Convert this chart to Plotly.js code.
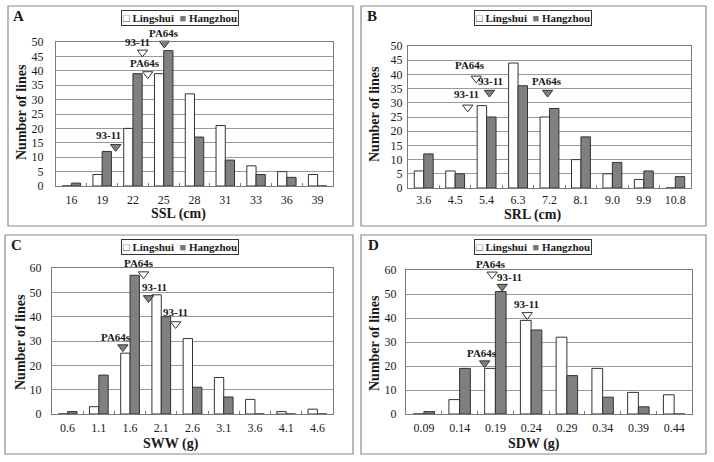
<!DOCTYPE html>
<html>
<head>
<meta charset="utf-8">
<script src="https://cdn.plot.ly/plotly-3.0.1.min.js"></script>
<style>html,body{margin:0;padding:0;background:#fff;}#chart{width:714px;height:462px;}</style>
</head>
<body>
<div id="chart"></div>
<script>
// ---------- DATA ----------
const seriesNames = ['Lingshui', 'Hangzhou'];

const catsA = ['16','19','22','25','28','31','33','36','39'];
const lingA = [0, 4, 20, 39, 32, 21, 7, 5, 4];
const hangA = [1, 12, 39, 47, 17, 9, 4, 3, 0];

const catsB = ['3.6','4.5','5.4','6.3','7.2','8.1','9.0','9.9','10.8'];
const lingB = [6, 6, 29, 44, 25, 10, 5, 3, 0];
const hangB = [12, 5, 25, 36, 28, 18, 9, 6, 4];

const catsC = ['0.6','1.1','1.6','2.1','2.6','3.1','3.6','4.1','4.6'];
const lingC = [0, 3, 25, 49, 31, 15, 6, 1, 2];
const hangC = [1, 16, 57, 40, 11, 7, 0, 0, 0];

const catsD = ['0.09','0.14','0.19','0.24','0.29','0.34','0.39','0.44'];
const lingD = [0, 6, 19, 39, 32, 19, 9, 8];
const hangD = [1, 19, 51, 35, 16, 7, 3, 0];

// parent-line markers (position in category units, value)
const parSiteA = ['Hangzhou','Lingshui','Lingshui','Hangzhou'];
const parNameA = ['93-11','PA64s','93-11','PA64s'];
const parXA = [1.44, 2.48, 2.31, 3.02];
const parYA = [13.6, 38.9, 46.4, 49.5];

const parSiteB = ['Lingshui','Lingshui','Hangzhou','Hangzhou'];
const parNameB = ['93-11','PA64s','93-11','PA64s'];
const parXB = [1.40, 1.67, 2.09, 3.94];
const parYB = [28.4, 38.6, 33.6, 33.6];

const parSiteC = ['Hangzhou','Lingshui','Hangzhou','Lingshui'];
const parNameC = ['PA64s','PA64s','93-11','93-11'];
const parXC = [1.77, 2.43, 2.59, 3.46];
const parYC = [27.5, 57.5, 47.7, 37.0];

const parSiteD = ['Hangzhou','Lingshui','Hangzhou','Lingshui'];
const parNameD = ['PA64s','PA64s','93-11','93-11'];
const parXD = [1.70, 1.91, 2.19, 2.89];
const parYD = [21.2, 58.2, 53.1, 41.3];

const panelLetters = ['A','B','C','D'];
const xTitles = ['SSL (cm)','SRL (cm)','SWW (g)','SDW (g)'];
const yTitle = 'Number of lines';

// ---------- STYLE / LAYOUT ----------
const W = 714, H = 462;
const px = v => v / W;
const py = v => 1 - v / H;
const FONT = 'Liberation Serif, Times New Roman, serif';
const TXT = '#1a1a1a';
const GREY = '#808080';
const OUT = '#333333';

const geom = [
  {plot:[56,333,42,186], box:[8,353,6,226], ymax:50, dtick:5, letter:[18,16], leg:[180,18], xt:[178,214], yt:[21,112], ystand:9, xstand:3, labOff:[[-7,12],[-3,11],[-5,10],[0,10]]},
  {plot:[408,691,46,188], box:[361,706,6,226], ymax:50, dtick:5, letter:[372,16], leg:[533,18], xt:[533,215], yt:[375,114], ystand:2, xstand:1, labOff:[[-1,13],[-6,13],[1,12],[-1,12]]},
  {plot:[52,333,268,414], box:[5,353,235,454], ymax:60, dtick:10, letter:[16,245], leg:[180,247], xt:[171,444], yt:[20,342], ystand:7, xstand:3, labOff:[[-7,10],[-4,11],[6,11],[0,12]]},
  {plot:[406,692,270,414], box:[361,706,235,454], ymax:60, dtick:10, letter:[373,245], leg:[533,247], xt:[534,444], yt:[374,343], ystand:6, xstand:3, labOff:[[-3,10],[-1,10],[7,10],[-1,11]]}
];

const panels = [
  {cats:catsA, ling:lingA, hang:hangA, site:parSiteA, name:parNameA, px:parXA, py:parYA},
  {cats:catsB, ling:lingB, hang:hangB, site:parSiteB, name:parNameB, px:parXB, py:parYB},
  {cats:catsC, ling:lingC, hang:hangC, site:parSiteC, name:parNameC, px:parXC, py:parYC},
  {cats:catsD, ling:lingD, hang:hangD, site:parSiteD, name:parNameD, px:parXD, py:parYD}
];

const traces = [];
const layout = {
  width: W, height: H,
  margin: {l:0, r:0, t:0, b:0},
  paper_bgcolor: '#ffffff',
  plot_bgcolor: '#ffffff',
  showlegend: false,
  barmode: 'group',
  bargap: 0.4,
  bargroupgap: 0,
  font: {family: FONT, color: TXT, size: 12},
  shapes: [],
  annotations: []
};

function ann(o) {
  return Object.assign({showarrow:false, xanchor:'center', yanchor:'middle'}, o);
}

panels.forEach((p, i) => {
  const g = geom[i];
  const n = i + 1;
  const xa = 'x' + n, ya = 'y' + n, xo = 'x' + (n + 4);
  const xk = 'xaxis' + n, yk = 'yaxis' + n, xok = 'xaxis' + (n + 4);

  traces.push({
    type:'bar', x:p.cats, y:p.ling, name:seriesNames[0], xaxis:xa, yaxis:ya,
    marker:{color:'#ffffff', line:{color:OUT, width:1}}, hoverinfo:'skip'
  });
  traces.push({
    type:'bar', x:p.cats, y:p.hang, name:seriesNames[1], xaxis:xa, yaxis:ya,
    marker:{color:GREY, line:{color:OUT, width:1}}, hoverinfo:'skip'
  });

  // parent markers
  seriesNames.forEach(s => {
    const idx = p.site.map((v, k) => v === s ? k : -1).filter(k => k >= 0);
    traces.push({
      type:'scatter', mode:'markers', xaxis:xo, yaxis:ya, cliponaxis:false,
      x: idx.map(k => p.px[k]), y: idx.map(k => p.py[k]),
      marker:{symbol:'triangle-down', size:9, color: s === 'Lingshui' ? '#ffffff' : GREY, line:{color:OUT, width:1}},
      hoverinfo:'skip'
    });
  });
  p.name.forEach((lab, k) => {
    layout.annotations.push(ann({
      xref:xo, yref:ya, x:p.px[k], y:p.py[k], text:'<b>' + lab + '</b>',
      xshift:g.labOff[k][0], yshift:g.labOff[k][1], font:{family:FONT, size:11, color:TXT}
    }));
  });

  const dom = [px(g.plot[0]), px(g.plot[1])];
  const ydom = [py(g.plot[3]), py(g.plot[2])];
  layout[xk] = {
    domain: dom, anchor: ya, type:'category', automargin:false,
    showline:true, linecolor:'#7a7a7a', linewidth:1, mirror:true,
    ticks:'inside', tickson:'boundaries', ticklen:3, tickcolor:'#7a7a7a',
    showgrid:false, ticklabelstandoff:g.xstand,
    tickfont:{family:FONT, size:12, color:TXT}, fixedrange:true
  };
  layout[xok] = {
    domain: dom, overlaying: xa, anchor: ya, range:[-0.5, p.cats.length - 0.5],
    visible:false, fixedrange:true
  };
  layout[yk] = {
    domain: ydom, anchor: xa, range:[0, g.ymax], dtick:g.dtick, automargin:false,
    showline:true, linecolor:'#7a7a7a', linewidth:1, mirror:true,
    showgrid:true, gridcolor:'#9a9a9a', gridwidth:1, zeroline:false,
    ticks:'', ticklabelstandoff:g.ystand,
    tickfont:{family:FONT, size:12, color:TXT}, fixedrange:true
  };

  // panel frame
  layout.shapes.push({
    type:'rect', xref:'paper', yref:'paper',
    x0:px(g.box[0]), x1:px(g.box[1]), y0:py(g.box[3]), y1:py(g.box[2]),
    line:{color:'#8a8a8a', width:1.2}, fillcolor:'rgba(0,0,0,0)'
  });
  // panel letter
  layout.annotations.push(ann({
    xref:'paper', yref:'paper', x:px(g.letter[0]), y:py(g.letter[1]),
    text:'<b>' + panelLetters[i] + '</b>', font:{family:FONT, size:15, color:TXT}
  }));
  // legend (drawn as bordered text)
  layout.annotations.push(ann({
    xref:'paper', yref:'paper', x:px(g.leg[0]), y:py(g.leg[1]),
    text:'<span style="color:#444">□</span> <b>' + seriesNames[0] + '</b>  <span style="color:#777">■</span> <b>' + seriesNames[1] + '</b>',
    bordercolor:'#333', borderwidth:1, borderpad:1, bgcolor:'#fff',
    font:{family:FONT, size:11, color:TXT}
  }));
  // axis titles
  layout.annotations.push(ann({
    xref:'paper', yref:'paper', x:px(g.xt[0]), y:py(g.xt[1]),
    text:'<b>' + xTitles[i] + '</b>', font:{family:FONT, size:14, color:TXT}
  }));
  layout.annotations.push(ann({
    xref:'paper', yref:'paper', x:px(g.yt[0]), y:py(g.yt[1]),
    text:'<b>' + yTitle + '</b>', textangle:-90, font:{family:FONT, size:14, color:TXT}
  }));
});

Plotly.newPlot('chart', traces, layout, {staticPlot:true, displayModeBar:false});
</script>
</body>
</html>
